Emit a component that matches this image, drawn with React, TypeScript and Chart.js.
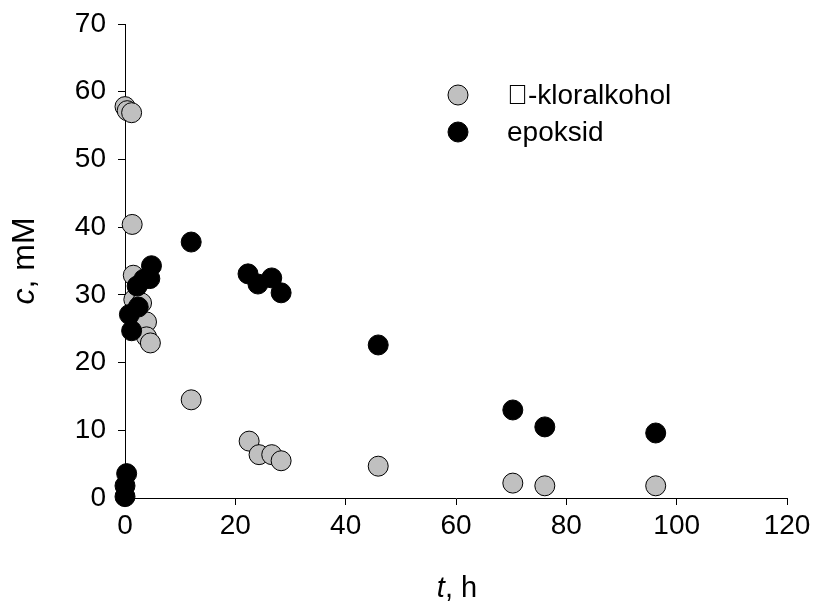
import React, { useEffect, useRef } from "react";
import { Chart, registerables } from "chart.js";

Chart.register(...registerables);

const seriesNames = ["\uF062-kloralkohol", "epoksid"];

const kloralkoholT = [0, 0.4, 1.2, 1.3, 1.5, 1.6, 3.0, 3.9, 3.9, 4.6, 12, 22.5, 24.3, 26.6, 28.3, 45.9, 70.3, 76.1, 96.2];
const kloralkoholC = [57.8, 57.2, 56.9, 40.4, 32.9, 29.3, 28.8, 26.0, 23.8, 22.9, 14.5, 8.4, 6.4, 6.4, 5.5, 4.7, 2.2, 1.8, 1.8];

const epoksidT = [0, 0, 0.3, 0.8, 1.2, 2.4, 2.2, 3.4, 4.5, 4.8, 12, 22.3, 24.1, 26.6, 28.3, 45.9, 70.3, 76.1, 96.2];
const epoksidC = [0.2, 1.8, 3.6, 27.1, 24.7, 28.2, 31.3, 32.3, 32.4, 34.3, 37.8, 33.1, 31.6, 32.5, 30.3, 22.6, 13.0, 10.5, 9.6];

const FONT = "'Liberation Sans', Arial, sans-serif";

export default function App() {
  const ref = useRef<HTMLCanvasElement | null>(null);

  useEffect(() => {
    if (!ref.current) return;
    const toPts = (xs: number[], ys: number[]) => xs.map((x, i) => ({ x, y: ys[i] }));

    const overlay = {
      id: "overlay",
      afterDraw(chart: any) {
        const ctx = chart.ctx;
        ctx.save();
        ctx.fillStyle = "#000";
        // x title
        ctx.textBaseline = "alphabetic";
        ctx.font = `italic 29px ${FONT}`;
        const wT = ctx.measureText("t").width;
        ctx.font = `29px ${FONT}`;
        const wRest = ctx.measureText(", h").width;
        const x0 = 457 - (wT + wRest) / 2;
        ctx.textAlign = "left";
        ctx.font = `italic 29px ${FONT}`;
        ctx.fillText("t", x0, 597);
        ctx.font = `29px ${FONT}`;
        ctx.fillText(", h", x0 + wT, 597);
        // y title
        ctx.save();
        ctx.translate(34, 261);
        ctx.rotate(-Math.PI / 2);
        ctx.font = `italic 32px ${FONT}`;
        const wc = ctx.measureText("c").width;
        ctx.font = `32px ${FONT}`;
        const wr = ctx.measureText(", mM").width;
        const s = -(wc + wr) / 2;
        ctx.font = `italic 32px ${FONT}`;
        ctx.fillText("c", s, 0);
        ctx.font = `32px ${FONT}`;
        ctx.fillText(", mM", s + wc, 0);
        ctx.restore();
        // legend
        const items = [
          { name: seriesNames[0], fill: "#c0c0c0", y: 95 },
          { name: seriesNames[1], fill: "#000000", y: 132 },
        ];
        ctx.font = `28px ${FONT}`;
        ctx.textBaseline = "middle";
        ctx.textAlign = "left";
        for (const it of items) {
          ctx.beginPath();
          ctx.arc(458, it.y, 10, 0, Math.PI * 2);
          ctx.fillStyle = it.fill;
          ctx.fill();
          ctx.lineWidth = 1;
          ctx.strokeStyle = "#000";
          ctx.stroke();
          ctx.fillStyle = "#000";
          ctx.fillText(it.name, 507, it.y + 1);
        }
        ctx.restore();
      },
    };

    const chart = new Chart(ref.current, {
      type: "scatter",
      data: {
        datasets: [
          {
            label: seriesNames[0],
            data: toPts(kloralkoholT, kloralkoholC),
            backgroundColor: "#c0c0c0",
            borderColor: "#000",
            borderWidth: 1,
            pointRadius: 10,
            order: 1,
            clip: false as any,
          },
          {
            label: seriesNames[1],
            data: toPts(epoksidT, epoksidC),
            backgroundColor: "#000",
            borderColor: "#000",
            borderWidth: 1,
            pointRadius: 10,
            order: 0,
            clip: false as any,
          },
        ],
      },
      options: {
        animation: false,
        responsive: false,
        layout: { padding: { top: 24, right: 27, left: 0, bottom: 0 } },
        plugins: { legend: { display: false }, tooltip: { enabled: false } },
        scales: {
          x: {
            type: "linear",
            min: 0,
            max: 120,
            ticks: { stepSize: 20, color: "#000", font: { family: FONT, size: 28 }, padding: 4, maxRotation: 0 },
            grid: { drawOnChartArea: false, drawTicks: true, tickLength: 7, color: "#000", lineWidth: 1 },
            border: { display: true, color: "#000", width: 1 },
            afterFit: (s: any) => { s.height = 111; s.paddingLeft = 0; s.paddingRight = 0; },
          },
          y: {
            type: "linear",
            min: 0,
            max: 70,
            ticks: { stepSize: 10, color: "#000", font: { family: FONT, size: 28 }, padding: 12 },
            grid: { drawOnChartArea: false, drawTicks: true, tickLength: 7, color: "#000", lineWidth: 1 },
            border: { display: true, color: "#000", width: 1 },
            afterFit: (s: any) => { s.width = 125; s.paddingTop = 0; s.paddingBottom = 0; },
          },
        },
      },
      plugins: [overlay],
    });
    return () => chart.destroy();
  }, []);

  return (
    <div style={{ position: "fixed", left: 0, top: 0, width: 814, height: 609, background: "#fff" }}>
      <canvas ref={ref} width={814} height={609} style={{ width: 814, height: 609 }} />
    </div>
  );
}
